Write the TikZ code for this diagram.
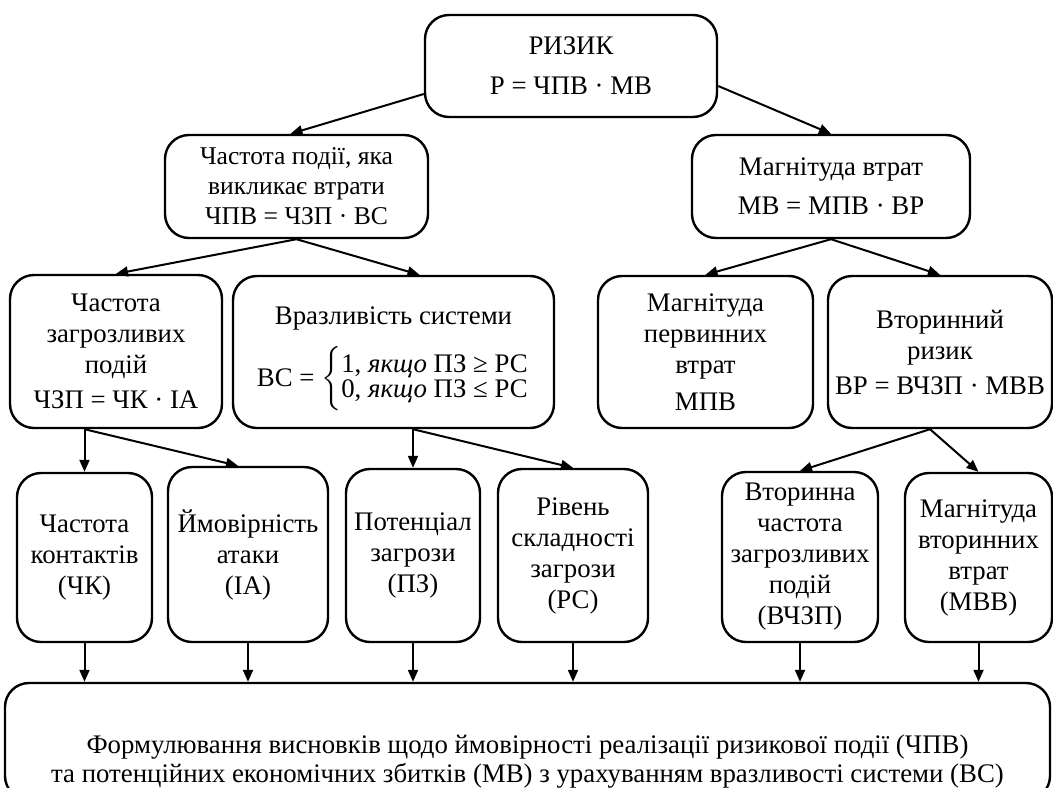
\documentclass[tikz,border=0pt]{standalone}
\usepackage{amsmath,amssymb}
\usepackage{fontspec}
\setmainfont{Liberation Serif}
\newfontfamily\tnr{Liberation Serif}
\usetikzlibrary{arrows.meta,positioning}

\begin{document}
\begin{tikzpicture}[x=0.5pt,y=-0.5pt,->,>={Triangle[length=6pt,width=5pt]},line width=1pt,
    main node/.style={draw,rounded corners=12pt,line width=1.2pt,align=center,inner sep=0pt,
      font=\tnr\fontsize{13.4}{15.5}\selectfont},
    text node/.style={align=center,inner sep=0pt,font=\tnr\fontsize{13.4}{14.5}\selectfont}]

    \useasboundingbox (0,0) rectangle (1053,787);

    % upper levels
    \node[main node,minimum width=146pt,minimum height=51pt] (risk) at (571,66)
      {РИЗИК\\[4.5pt]Р = ЧПВ · МВ};
    \node[main node,minimum width=131.5pt,minimum height=51.5pt,
          font=\tnr\fontsize{12.8}{15}\selectfont] (chpv) at (296.5,186.5)
      {Частота події, яка\\викликає втрати\\ЧПВ = ЧЗП · ВС};
    \node[main node,minimum width=139pt,minimum height=51.5pt] (mv) at (831,186.5)
      {Магнітуда втрат\\[4pt]МВ = МПВ · ВР};

    \node[main node,minimum width=106pt,minimum height=76.5pt] (chzp) at (116,351.5)
      {Частота\\загрозливих\\подій\\[2pt]ЧЗП = ЧК · ІА};
    \node[main node,minimum width=160.5pt,minimum height=76pt] (vs) at (393.5,352)
      {\rule{0pt}{16pt}Вразливість системи\\[7pt]
       ВС = $\left\{\begin{tabular}{@{}l@{}}1, \textit{якщо} ПЗ ≥ РС\\[-3pt]
                                          0, \textit{якщо} ПЗ ≤ РС\end{tabular}\right.$};
    \node[main node,minimum width=107.5pt,minimum height=76pt] (mpv) at (705.5,352)
      {Магнітуда\\первинних\\втрат\\[3pt]МПВ};
    \node[main node,minimum width=112pt,minimum height=76pt] (vr) at (940,352)
      {Вторинний\\ризик\\[2pt]ВР = ВЧЗП · МВВ};

    % lower level
    \node[main node,minimum width=67.5pt,minimum height=84.5pt] (chk) at (84.5,557.5)
      {Частота\\контактів\\(ЧК)};
    \node[main node,minimum width=80pt,minimum height=87.5pt] (ia) at (248,554.5)
      {Ймовірність\\атаки\\(ІА)};
    \node[main node,minimum width=67pt,minimum height=86.5pt] (pz) at (413,555.5)
      {Потенціал\\загрози\\(ПЗ)};
    \node[main node,minimum width=75pt,minimum height=86.5pt] (rs) at (573,555.5)
      {Рівень\\складності\\загрози\\(РС)};
    \node[main node,minimum width=78pt,minimum height=85pt] (vchzp) at (800,557)
      {Вторинна\\частота\\загрозливих\\подій\\(ВЧЗП)};
    \node[main node,minimum width=73.5pt,minimum height=84.5pt] (mvv) at (978.5,557.5)
      {Магнітуда\\вторинних\\втрат\\(МВВ)};

    % conclusion
    \node[main node,minimum width=522.5pt,minimum height=58.5pt] (final) at (527.5,741.5) {};
    \node[text node] (final-t) at (527.5,762)
      {Формулювання висновків щодо ймовірності реалізації ризикової події (ЧПВ)\\
       та потенційних економічних збитків (МВ) з урахуванням вразливості системи (ВС)};

    \coordinate (vs-out) at (pz.north |- vs.south);
    \coordinate (vr-out) at ([xshift=-5pt]vr.south);

    \path
    ([yshift=-14pt]risk.west) edge ([xshift=-3pt]chpv.north)
    ([yshift=-10pt]risk.east) edge (mv.north)
    (chpv.south) edge (chzp.north)
    (chpv.south) edge ([xshift=13pt]vs.north)
    (mv.south) edge (mpv.north)
    (mv.south) edge (vr.north)
    (chk.north |- chzp.south) edge (chk.north)
    (chk.north |- chzp.south) edge ([xshift=-5pt]ia.north)
    (vs-out) edge (pz.north)
    (vs-out) edge (rs.north)
    (vr-out) edge (vchzp.north)
    (vr-out) edge (mvv.north);

    \foreach \n in {chk,ia,pz,rs,vchzp,mvv}
      \draw (\n.south) -- (\n.south |- final.north);
\end{tikzpicture}
\end{document}
